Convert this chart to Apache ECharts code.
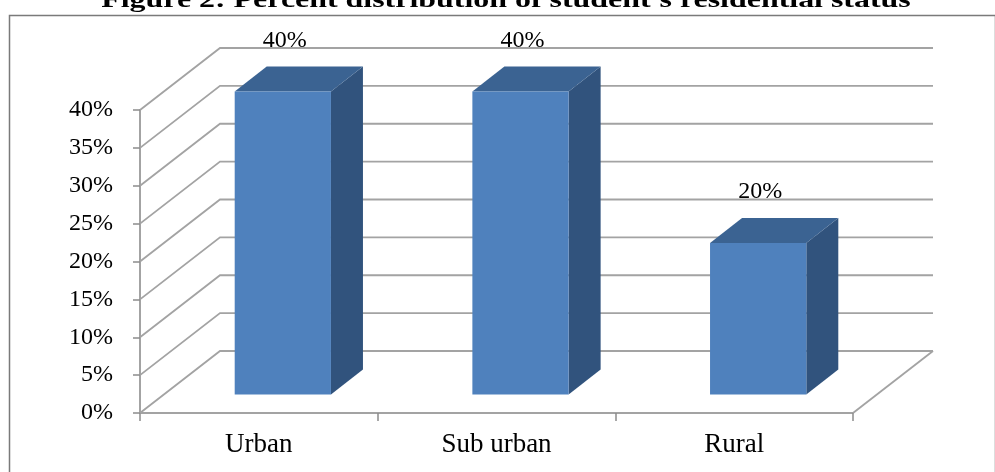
<!DOCTYPE html>
<html>
<head>
<meta charset="utf-8">
<script src="https://cdn.jsdelivr.net/npm/echarts@6/dist/echarts.min.js"></script>
<style>
  html, body { margin: 0; padding: 0; background: #ffffff; }
  #chart { width: 995px; height: 472px; }
</style>
</head>
<body>
<div id="chart"></div>
<script>
// Residential status of students, percent of respondents
const categories = ['Urban', 'Sub urban', 'Rural'];
const shares = [40, 40, 20];
const valueTicks = [0, 5, 10, 15, 20, 25, 30, 35, 40];
const titleText = "Figure 2: Percent distribution of student's residential status";

// Oblique projection used for the walls and the block bars
const DEPTH_X = 80;       // horizontal shift of the back wall
const DEPTH_Y = 62;       // vertical shift of the back wall
const BAR_FRONT = 0.30;   // depth of the bar front face (0 = front, 1 = back wall)
const BAR_BACK = 0.70;    // depth of the bar back face
const BAR_WIDTH = 0.405;  // share of the category band used by a bar

const SERIF = '"Liberation Serif", "Times New Roman", serif';
const GRID_COLOR = '#a3a3a3';

const chart = echarts.init(document.getElementById('chart'), null, { renderer: 'canvas' });

function renderWall(params, api) {
  const v = api.value(1);
  const cs = params.coordSys;
  const y = api.coord([0, v])[1];
  const x0 = cs.x;
  const x1 = cs.x + cs.width;
  const children = [{
    type: 'polyline',
    shape: { points: [[x0, y], [x0 + DEPTH_X, y - DEPTH_Y], [x1 + DEPTH_X, y - DEPTH_Y]] },
    style: { stroke: GRID_COLOR, lineWidth: 1.8, fill: null }
  }];
  if (v === valueTicks[0]) {
    // right edge of the floor
    children.push({
      type: 'line',
      shape: { x1: x1, y1: y, x2: x1 + DEPTH_X, y2: y - DEPTH_Y },
      style: { stroke: GRID_COLOR, lineWidth: 1.8 }
    });
  }
  return { type: 'group', children: children };
}

function renderBlock(params, api) {
  const idx = api.value(0);
  const v = api.value(1);
  const base = api.coord([idx, 0]);
  const top = api.coord([idx, v]);
  const band = api.size([1, 0])[0];
  const w = band * BAR_WIDTH;
  const fx = DEPTH_X * BAR_FRONT, fy = DEPTH_Y * BAR_FRONT;
  const dx = DEPTH_X * (BAR_BACK - BAR_FRONT), dy = DEPTH_Y * (BAR_BACK - BAR_FRONT);
  const L = base[0] - w / 2 + fx;
  const R = base[0] + w / 2 + fx;
  const B = base[1] - fy;
  const T = top[1] - fy;
  return {
    type: 'group',
    children: [
      {
        type: 'polygon',
        shape: { points: [[R, T], [R + dx, T - dy], [R + dx, B - dy], [R, B]] },
        style: { fill: '#31537d' }
      },
      {
        type: 'polygon',
        shape: { points: [[L, T], [R, T], [R + dx, T - dy], [L + dx, T - dy]] },
        style: { fill: '#3b6392' }
      },
      {
        type: 'rect',
        shape: { x: L, y: T, width: R - L, height: B - T },
        style: { fill: '#4f81bd' }
      },
      {
        type: 'text',
        x: (L + R) / 2 + 2,
        y: T - dy - 26,
        style: {
          text: v + '%',
          font: '24px ' + SERIF,
          fill: '#000000',
          textAlign: 'center',
          textVerticalAlign: 'middle'
        }
      }
    ]
  };
}

const option = {
  animation: false,
  backgroundColor: '#ffffff',
  grid: { left: 140, right: 142, top: 110, bottom: 59, containLabel: false },
  xAxis: {
    type: 'category',
    data: categories,
    boundaryGap: true,
    axisLine: { show: true, lineStyle: { color: GRID_COLOR, width: 2 } },
    axisTick: { show: true, length: 8, lineStyle: { color: '#8c8c8c', width: 1.5 } },
    axisLabel: { color: '#000000', fontFamily: SERIF, fontSize: 27, margin: 18 },
    splitLine: { show: false }
  },
  yAxis: {
    type: 'value',
    min: 0,
    max: 40,
    interval: 5,
    axisLine: { show: true, lineStyle: { color: GRID_COLOR, width: 2 } },
    axisTick: { show: true, length: 7, lineStyle: { color: '#8c8c8c', width: 1.5 } },
    axisLabel: {
      color: '#000000', fontFamily: SERIF, fontSize: 24, margin: 27,
      formatter: function (val) { return val + '%'; }
    },
    splitLine: { show: false }
  },
  graphic: [
    {
      type: 'rect',
      left: 7, top: 13,
      shape: { x: 0, y: 0, width: 986, height: 470 },
      style: { fill: null, stroke: '#7a7a7a', lineWidth: 1.5 },
      z: 0
    },
    {
      type: 'text',
      x: 506, y: 13,
      scaleX: 1.33,
      style: {
        text: titleText,
        font: 'bold 24px ' + SERIF,
        fill: '#000000',
        textAlign: 'center',
        textVerticalAlign: 'bottom'
      },
      z: 10
    }
  ],
  series: [
    {
      type: 'custom',
      name: 'walls',
      renderItem: renderWall,
      data: valueTicks.map(function (v) { return [0, v]; }),
      clip: false,
      silent: true,
      z: 1
    },
    {
      type: 'custom',
      name: 'share',
      renderItem: renderBlock,
      data: shares.map(function (v, i) { return [i, v]; }),
      clip: false,
      z: 3
    }
  ]
};

chart.setOption(option);
</script>
</body>
</html>
